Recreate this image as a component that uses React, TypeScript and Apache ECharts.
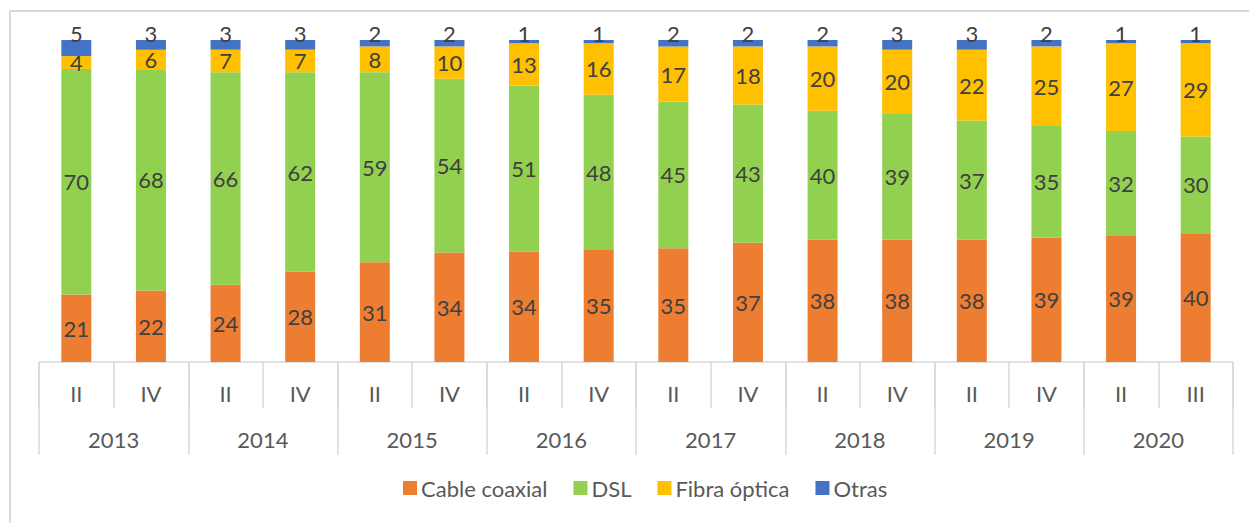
import React, { useEffect, useRef } from "react";
import * as echarts from "echarts";

const quarters = ["II", "IV", "II", "IV", "II", "IV", "II", "IV", "II", "IV", "II", "IV", "II", "IV", "II", "III"];
const years = ["2013", "2014", "2015", "2016", "2017", "2018", "2019", "2020"];
const cableCoaxial = [21, 22, 24, 28, 31, 34, 34, 35, 35, 37, 38, 38, 38, 39, 39, 40];
const dsl = [70, 68, 66, 62, 59, 54, 51, 48, 45, 43, 40, 39, 37, 35, 32, 30];
const fibraOptica = [4, 6, 7, 7, 8, 10, 13, 16, 17, 18, 20, 20, 22, 25, 27, 29];
const otras = [5, 3, 3, 3, 2, 2, 1, 1, 2, 2, 2, 3, 3, 2, 1, 1];

const FONT = "Lato, 'Noto Sans', sans-serif";
const GRAY = "#D9D9D9";

export default function App() {
  const ref = useRef<HTMLDivElement>(null);
  useEffect(() => {
    if (!ref.current) return;
    const chart = echarts.init(ref.current, undefined, { renderer: "svg" });
    // 100% stacked: each column is normalised to its own total, labels show the raw values
    const totals = quarters.map((_, i) => cableCoaxial[i] + dsl[i] + fibraOptica[i] + otras[i]);
    const norm = (arr: number[]) => arr.map((v, i) => ({ value: (v / totals[i]) * 100, raw: v }));
    const insideLabel = {
      show: true,
      position: "inside",
      fontSize: 22,
      color: "#404040",
      fontFamily: FONT,
      formatter: (p: any) => String(p.data.raw),
    };
    const mk = (name: string, arr: number[], color: string, label: any) => ({
      name,
      type: "bar",
      stack: "total",
      barWidth: 30,
      data: norm(arr),
      itemStyle: { color },
      label,
    });
    chart.setOption({
      animation: false,
      textStyle: { fontFamily: FONT },
      grid: { left: 39, right: 16, top: 40, bottom: 161, containLabel: false },
      legend: {
        bottom: 19,
        left: 398,
        itemWidth: 14,
        itemHeight: 14,
        itemGap: 26,
        icon: "rect",
        textStyle: { fontSize: 22, color: "#595959", fontFamily: FONT, padding: [0, 0, 0, -1] },
        data: ["Cable coaxial", "DSL", "Fibra óptica", "Otras"],
      },
      xAxis: [
        {
          type: "category",
          data: quarters,
          position: "bottom",
          axisLine: { show: true, lineStyle: { color: GRAY, width: 1.5 } },
          axisTick: { show: true, interval: 0, length: 46, lineStyle: { color: GRAY, width: 1.5 } },
          axisLabel: { interval: 0, margin: 20, fontSize: 22, color: "#595959", fontFamily: FONT },
        },
        {
          type: "category",
          data: years,
          position: "bottom",
          offset: 0,
          axisLine: { show: false },
          axisTick: { show: true, interval: 0, length: 93, lineStyle: { color: GRAY, width: 1.5 } },
          axisLabel: { interval: 0, margin: 66, fontSize: 22, color: "#595959", fontFamily: FONT },
        },
      ],
      yAxis: {
        type: "value",
        min: 0,
        max: 100,
        show: false,
        splitLine: { show: false },
      },
      graphic: [
        {
          type: "line",
          shape: { x1: 10, y1: 11, x2: 10, y2: 523 },
          style: { stroke: GRAY, lineWidth: 2 },
        },
        {
          type: "line",
          shape: { x1: 10, y1: 11, x2: 1249, y2: 11 },
          style: { stroke: GRAY, lineWidth: 2 },
        },
      ],
      series: [
        mk("Cable coaxial", cableCoaxial, "#ED7D31", insideLabel),
        mk("DSL", dsl, "#92D050", insideLabel),
        mk("Fibra óptica", fibraOptica, "#FFC000", insideLabel),
        mk("Otras", otras, "#4472C4", { ...insideLabel, position: "top", distance: -4 }),
      ],
    });
    return () => chart.dispose();
  }, []);
  return (
    <div
      ref={ref}
      style={{ position: "absolute", left: 0, top: 0, width: 1249, height: 523, background: "#fff" }}
    />
  );
}
